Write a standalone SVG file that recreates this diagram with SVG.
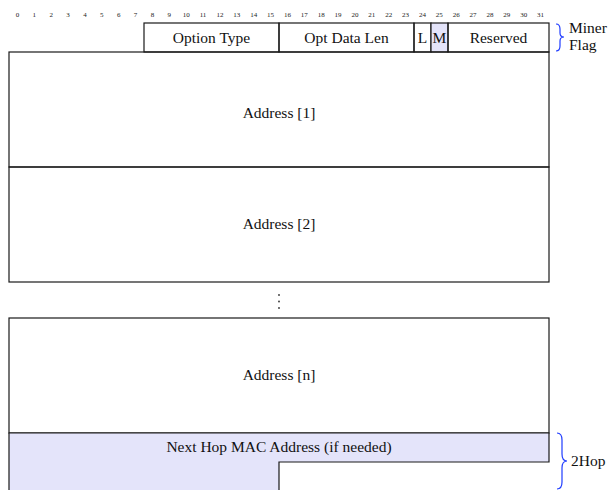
<svg xmlns="http://www.w3.org/2000/svg" width="612" height="490" viewBox="0 0 612 490">
<style>
.bx{fill:none;stroke:#1a1a1a;stroke-width:1.2}
.fl{fill:#e4e4fa;stroke:#1a1a1a;stroke-width:1.2}
.t{font-family:"Liberation Serif",serif;font-size:15.5px;fill:#111;text-anchor:middle}
.tl{font-family:"Liberation Serif",serif;font-size:15.5px;fill:#111}
.n{font-family:"Liberation Serif",serif;font-size:7px;fill:#222;text-anchor:middle}
.br{fill:none;stroke:#1f3cff;stroke-width:1.2}
</style>
<g id="bits">
<text class="n" x="17.4" y="17">0</text><text class="n" x="34.3" y="17">1</text><text class="n" x="51.2" y="17">2</text><text class="n" x="68.0" y="17">3</text><text class="n" x="84.9" y="17">4</text><text class="n" x="101.8" y="17">5</text><text class="n" x="118.7" y="17">6</text><text class="n" x="135.5" y="17">7</text><text class="n" x="152.4" y="17">8</text><text class="n" x="169.3" y="17">9</text><text class="n" x="186.2" y="17">10</text><text class="n" x="203.0" y="17">11</text><text class="n" x="219.9" y="17">12</text><text class="n" x="236.8" y="17">13</text><text class="n" x="253.7" y="17">14</text><text class="n" x="270.5" y="17">15</text><text class="n" x="287.4" y="17">16</text><text class="n" x="304.3" y="17">17</text><text class="n" x="321.2" y="17">18</text><text class="n" x="338.0" y="17">19</text><text class="n" x="354.9" y="17">20</text><text class="n" x="371.8" y="17">21</text><text class="n" x="388.7" y="17">22</text><text class="n" x="405.5" y="17">23</text><text class="n" x="422.4" y="17">24</text><text class="n" x="439.3" y="17">25</text><text class="n" x="456.2" y="17">26</text><text class="n" x="473.0" y="17">27</text><text class="n" x="489.9" y="17">28</text><text class="n" x="506.8" y="17">29</text><text class="n" x="523.7" y="17">30</text><text class="n" x="540.5" y="17">31</text>
</g>
<g id="option-type"><rect class="bx" x="144" y="23" width="135" height="29"/><text class="t" x="211.5" y="42.5">Option Type</text></g>
<g id="opt-data-len"><rect class="bx" x="279" y="23" width="135" height="29"/><text class="t" x="346.5" y="42.5">Opt Data Len</text></g>
<g id="flag-l"><rect class="bx" x="414" y="23" width="17" height="29"/><text class="t" x="422.5" y="42.5">L</text></g>
<g id="flag-m"><rect class="fl" x="431" y="23" width="17" height="29"/><text class="t" x="439.5" y="42.5">M</text></g>
<g id="reserved"><rect class="bx" x="448" y="23" width="101" height="29"/><text class="t" x="498.5" y="42.5">Reserved</text></g>
<g id="miner-flag"><path class="br" d="M556,24 Q560,24 560,29 L560,33 Q560,37 564,37 Q560,37 560,41 L560,46 Q560,51 556,51"/><text class="tl" x="569" y="33">Miner</text><text class="tl" x="569" y="50">Flag</text></g>
<g id="address-1"><rect class="bx" x="9" y="52" width="540" height="115"/><text class="t" x="279" y="118">Address [1]</text></g>
<g id="address-2"><rect class="bx" x="9" y="167" width="540" height="115"/><text class="t" x="279" y="229">Address [2]</text></g>
<g id="ellipsis"><circle cx="279" cy="295" r="0.9" fill="#333"/><circle cx="279" cy="301.5" r="0.9" fill="#333"/><circle cx="279" cy="308" r="0.9" fill="#333"/></g>
<g id="address-n"><rect class="bx" x="9" y="318" width="540" height="115"/><text class="t" x="279" y="380">Address [n]</text></g>
<g id="next-hop"><path d="M9,433 H549 V462 H279 V490 H9 Z" fill="#e4e4fa"/><path class="bx" d="M9,490 V433 H549 V462 H279 V490"/><text class="t" x="279" y="451.5">Next Hop MAC Address (if needed)</text></g>
<g id="twohop"><path class="br" d="M557,433 Q562,433 562,440 L562,454 Q562,461 567,461 Q562,461 562,468 L562,482 Q562,489 557,489"/><text class="tl" x="571" y="466">2Hop</text></g>
</svg>
